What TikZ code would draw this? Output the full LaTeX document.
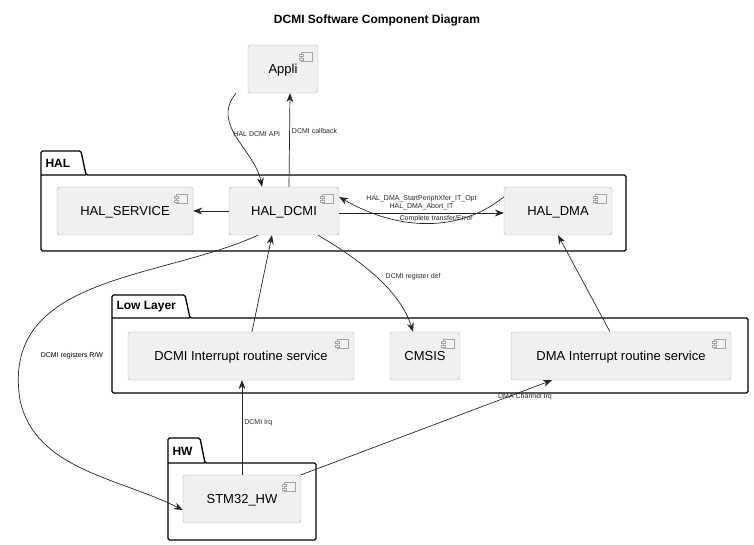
\documentclass[tikz,border=0pt]{standalone}
\usepackage{fontspec}
\setmainfont{Liberation Sans}
\usetikzlibrary{arrows.meta,positioning,calc}

\newcommand{\compicon}[1]{%
	\draw[gray!70,fill=gray!10] ($(#1.north east)+(-17,7)$) rectangle ++(11,9);
	\draw[gray!70,fill=gray!10] ($(#1.north east)+(-19,9.5)$) rectangle ++(4,2);
	\draw[gray!70,fill=gray!10] ($(#1.north east)+(-19,13)$) rectangle ++(4,2);}

\begin{document}
\begin{tikzpicture}[x=1pt,y=-1pt,
	compnode/.style={rectangle, rounded corners=2.5pt, draw=gray!60, fill=gray!12, font=\fontsize{13}{15}\selectfont, text depth=0pt, align=center},
	pkg/.style={draw=black, line width=1.3pt, rounded corners=1.5pt},
	pkglabel/.style={font=\fontsize{12}{14}\selectfont\bfseries, anchor=west},
	lbl/.style={font=\fontsize{7}{8}\selectfont, inner sep=1pt},
	arr/.style={-{Stealth[length=9pt,width=7pt,inset=3pt]}, black!85, line width=0.7pt}
	]
	\useasboundingbox (0,0) rectangle (754,545);
	\node[font=\fontsize{12}{14}\selectfont\bfseries] (Title) at (377,20) {DCMI Software Component Diagram};
	% Packages
	\draw[pkg] (41,175) -- (41,151) -- (81,151) -- (86,175) -- (626,175) -- (626,251) -- (41,251) -- cycle (41,175) -- (86,175);
	\node[pkglabel] (HALname) at (42,163) {HAL};
	\draw[pkg] (112,318) -- (112,295) -- (185,295) -- (190,318) -- (748,318) -- (748,393) -- (112,393) -- cycle (112,318) -- (190,318);
	\node[pkglabel] (LLname) at (113,307) {Low Layer};
	\draw[pkg] (168,463) -- (168,438) -- (200,438) -- (205,463) -- (316,463) -- (316,540) -- (168,540) -- cycle (168,463) -- (205,463);
	\node[pkglabel] (HWname) at (169,451) {HW};
	%Nodes
	\node[compnode, minimum width=70, minimum height=48] (Appli) at (283,69) {Appli};
	\node[compnode, minimum width=136, minimum height=48] (HalService) at (125,211) {HAL\_SERVICE};
	\node[compnode, minimum width=110, minimum height=48] (HalDcmi) at (284,211) {HAL\_DCMI};
	\node[compnode, minimum width=108, minimum height=48] (HalDma) at (558,211) {HAL\_DMA};
	\node[compnode, minimum width=226, minimum height=48] (DcmiIrs) at (241,356) {DCMI Interrupt routine service};
	\node[compnode, minimum width=70, minimum height=48] (Cmsis) at (425,356) {CMSIS};
	\node[compnode, minimum width=220, minimum height=48] (DmaIrs) at (621,356) {DMA Interrupt routine service};
	\node[compnode, minimum width=118, minimum height=48] (Stm32Hw) at (242,499) {STM32\_HW};
	\foreach \n in {Appli,HalService,HalDcmi,HalDma,DcmiIrs,Cmsis,DmaIrs,Stm32Hw} {\compicon{\n}}
	%Lines
	\draw[arr] ([xshift=-47]Appli.south) .. controls (210,125) and (255,150) .. ([xshift=-22]HalDcmi.north) node[lbl, pos=0.45, right=-2pt] {HAL DCMI API};
	\draw[arr] ([xshift=5]HalDcmi.north) -- ([xshift=7]Appli.south) node[lbl, pos=0.6, right=1pt] {DCMI callback};
	\draw[arr] (HalDcmi.west) -- (HalService.east);
	\draw[arr] ([yshift=-2]HalDcmi.east) -- ([yshift=-2]HalDma.west) node[lbl, midway, above=2pt, align=center] {HAL\_DMA\_StartPeriphXfer\_IT\_Opt\\HAL\_DMA\_Abort\_IT};
	\draw[arr] ([yshift=14]HalDma.west) .. controls (460,232) and (400,232) .. ([yshift=14]HalDcmi.east) node[lbl, pos=0.45, above=0pt] {Complete transfer/Error};
	\draw[arr] ([xshift=34]HalDcmi.south) .. controls (360,260) and (400,290) .. ([xshift=-12]Cmsis.north) node[lbl, pos=0.5, right=8pt] {DCMI register def};
	\draw[arr] ([xshift=11]DcmiIrs.north) -- ([xshift=-12]HalDcmi.south);
	\draw[arr] ([xshift=-11]DmaIrs.north) -- (HalDma.south);
	\draw[arr] ([xshift=-26]HalDcmi.south) .. controls (160,280) and (0,275) .. (20,400) .. controls (35,470) and (120,478) .. ([yshift=-11]Stm32Hw.west);
	\node[lbl] (RwLabel) at (72,356) {DCMI registers R/W};
	\draw[arr] (Stm32Hw.north) -- ([xshift=1]DcmiIrs.south) node[lbl, pos=0.55, right=1pt] {DCMI Irq};
	\draw[arr] (Stm32Hw.north east) -- ([xshift=-69]DmaIrs.south) node[lbl, pos=0.78, above right=0pt] {DMA Channel Irq};
\end{tikzpicture}
\end{document}
